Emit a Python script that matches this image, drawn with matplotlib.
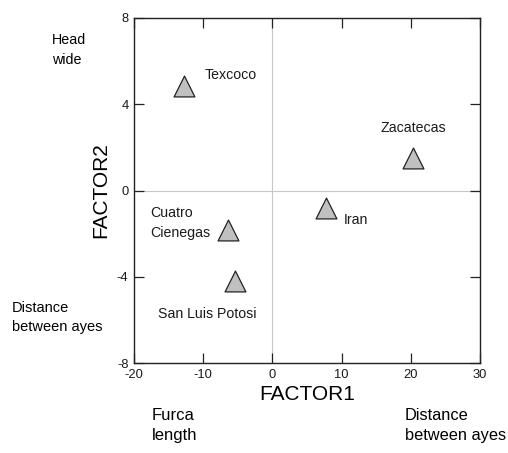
import numpy as np
import matplotlib
matplotlib.use('Agg')
import matplotlib.pyplot as plt

plt.rcParams['font.family'] = ['Liberation Sans', 'DejaVu Sans']
plt.rcParams['axes.unicode_minus'] = False

# site scores on the first two factors
sites = ['Texcoco', 'Zacatecas', 'Iran', 'Cuatro\nCienegas', 'San Luis Potosi']
factor1 = [-12.8, 20.3, 7.7, -6.4, -5.4]
factor2 = [4.85, 1.5, -0.8, -1.85, -4.2]

x_ticks = [-20, -10, 0, 10, 20, 30]
y_ticks = [-8, -4, 0, 4, 8]

# label placement relative to each marker (points) and alignment
label_offsets = [(15, 8), (0, 22), (13, -8.5), (-13, 5.5), (-20, -24)]
label_ha = ['left', 'center', 'left', 'right', 'center']

W, H = 508, 453
fig = plt.figure(figsize=(W/100, H/100), dpi=100)
ax = fig.add_axes([134/W, 1-363/H, (480-134)/W, (363-18)/H])

ax.axhline(0, color='#c8c8c8', lw=0.8, zorder=0)
ax.axvline(0, color='#c8c8c8', lw=0.8, zorder=0)

ax.scatter(factor1, factor2, marker='^', s=225, facecolor='#c0c0c0',
           edgecolor='#222222', linewidth=0.9, zorder=3)

for name, x, y, off, ha in zip(sites, factor1, factor2, label_offsets, label_ha):
    ax.annotate(name, (x, y), xytext=off, textcoords='offset points',
                ha=ha, va='center', multialignment='left', fontsize=10.2,
                linespacing=1.5, color='#1a1a1a')

ax.set_xlim(-20, 30)
ax.set_ylim(-8, 8)
ax.set_xticks(x_ticks)
ax.set_yticks(y_ticks)
ax.tick_params(direction='in', length=7, width=0.9, top=True, right=True,
               labelsize=9.3, pad=4, color='#222222', labelcolor='#1a1a1a')
for sp in ax.spines.values():
    sp.set_linewidth(1.0)
    sp.set_color('#222222')

ax.set_xlabel('FACTOR1', fontsize=15, labelpad=3)
ax.set_ylabel('FACTOR2', fontsize=15, labelpad=5)

# variable annotations outside the frame
fig.text(52/W, 1-33/H, 'Head\nwide', fontsize=10.3, va='top', ha='left', linespacing=1.5)
fig.text(12/W, 1-301/H, 'Distance\nbetween ayes', fontsize=10.5, va='top', ha='left', linespacing=1.5)
fig.text(152/W, 1-408/H, 'Furca\nlength', fontsize=12, va='top', ha='left', linespacing=1.4)
fig.text(405/W, 1-408/H, 'Distance\nbetween ayes', fontsize=11.8, va='top', ha='left', linespacing=1.4)

fig.savefig('out.png', dpi=100)
